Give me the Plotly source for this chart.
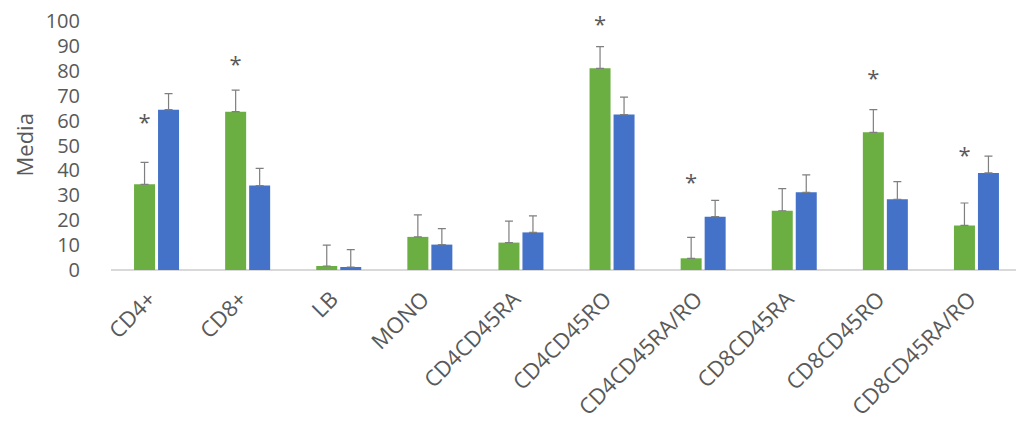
import plotly.graph_objects as go
import numpy as np

categories = ["CD4+", "CD8+", "LB", "MONO", "CD4CD45RA", "CD4CD45RO",
              "CD4CD45RA/RO", "CD8CD45RA", "CD8CD45RO", "CD8CD45RA/RO"]
green_vals = [34.4, 63.6, 1.6, 13.3, 11.0, 81.0, 4.7, 23.8, 55.3, 17.9]
green_err_top = [43.2, 72.2, 10.0, 22.1, 19.6, 89.7, 13.1, 32.7, 64.4, 26.9]
blue_vals = [64.4, 33.9, 1.2, 10.2, 15.1, 62.4, 21.4, 31.2, 28.4, 39.0]
blue_err_top = [70.8, 40.8, 8.2, 16.6, 21.7, 69.4, 28.0, 38.2, 35.5, 45.7]
star_cats = ["CD4+", "CD8+", "CD4CD45RO", "CD4CD45RA/RO", "CD8CD45RO", "CD8CD45RA/RO"]
star_y = [58.6, 81.7, 97.9, 34.5, 76.1, 45.0]

green_err = [t - v for t, v in zip(green_err_top, green_vals)]
blue_err = [t - v for t, v in zip(blue_err_top, blue_vals)]

x = np.arange(len(categories))
bargap = 0.473
green_offset = -(1 - bargap) / 4
star_x = [categories.index(c) + green_offset for c in star_cats]

err_style = dict(type="data", symmetric=False, arrayminus=[0] * len(categories),
                 color="#7f7f7f", thickness=1.2, width=4)

fig = go.Figure()
fig.add_trace(go.Bar(x=x, y=green_vals, marker=dict(color="#6BAE42", line=dict(width=0)),
                     error_y=dict(array=green_err, **err_style), name="green"))
fig.add_trace(go.Bar(x=x, y=blue_vals, marker=dict(color="#4472C8", line=dict(width=0)),
                     error_y=dict(array=blue_err, **err_style), name="blue"))
fig.add_trace(go.Scatter(x=star_x, y=star_y, mode="text", text=["*"] * len(star_x),
                         textposition="middle center", cliponaxis=False,
                         textfont=dict(size=22, color="#595959", family="Open Sans")))

fig.update_layout(
    width=1016, height=423,
    margin=dict(l=111, r=0, t=21, b=153, autoexpand=False),
    paper_bgcolor="white", plot_bgcolor="white",
    barmode="group", bargap=bargap, bargroupgap=0.125,
    showlegend=False,
    font=dict(family="Open Sans", color="#595959"),
    xaxis=dict(tickmode="array", tickvals=x, ticktext=categories, tickangle=-45,
               range=[-0.5, -0.5 + 905 / 91.1], showgrid=False, zeroline=False,
               showline=False, ticks="", automargin=False,
               ticklabelstandoff=11, ticklabelshift=-7,
               tickfont=dict(size=22, color="#595959")),
    yaxis=dict(range=[0, 100], dtick=10, showgrid=False, zeroline=True,
               zerolinecolor="#d9d9d9", zerolinewidth=1.5, showline=False, ticks="",
               automargin=False, tickfont=dict(size=20, color="#595959"),
               ticklabelstandoff=30),
    annotations=[dict(text="Media", textangle=-90, xref="paper", yref="paper",
                      x=(23 - 111) / 905, y=0.5, xanchor="center", yanchor="middle",
                      showarrow=False, font=dict(size=22, color="#595959"))],
)
fig.write_html("out.html", config={"displayModeBar": False},
               post_script="document.body.style.margin='0';document.body.style.overflow='hidden';")
